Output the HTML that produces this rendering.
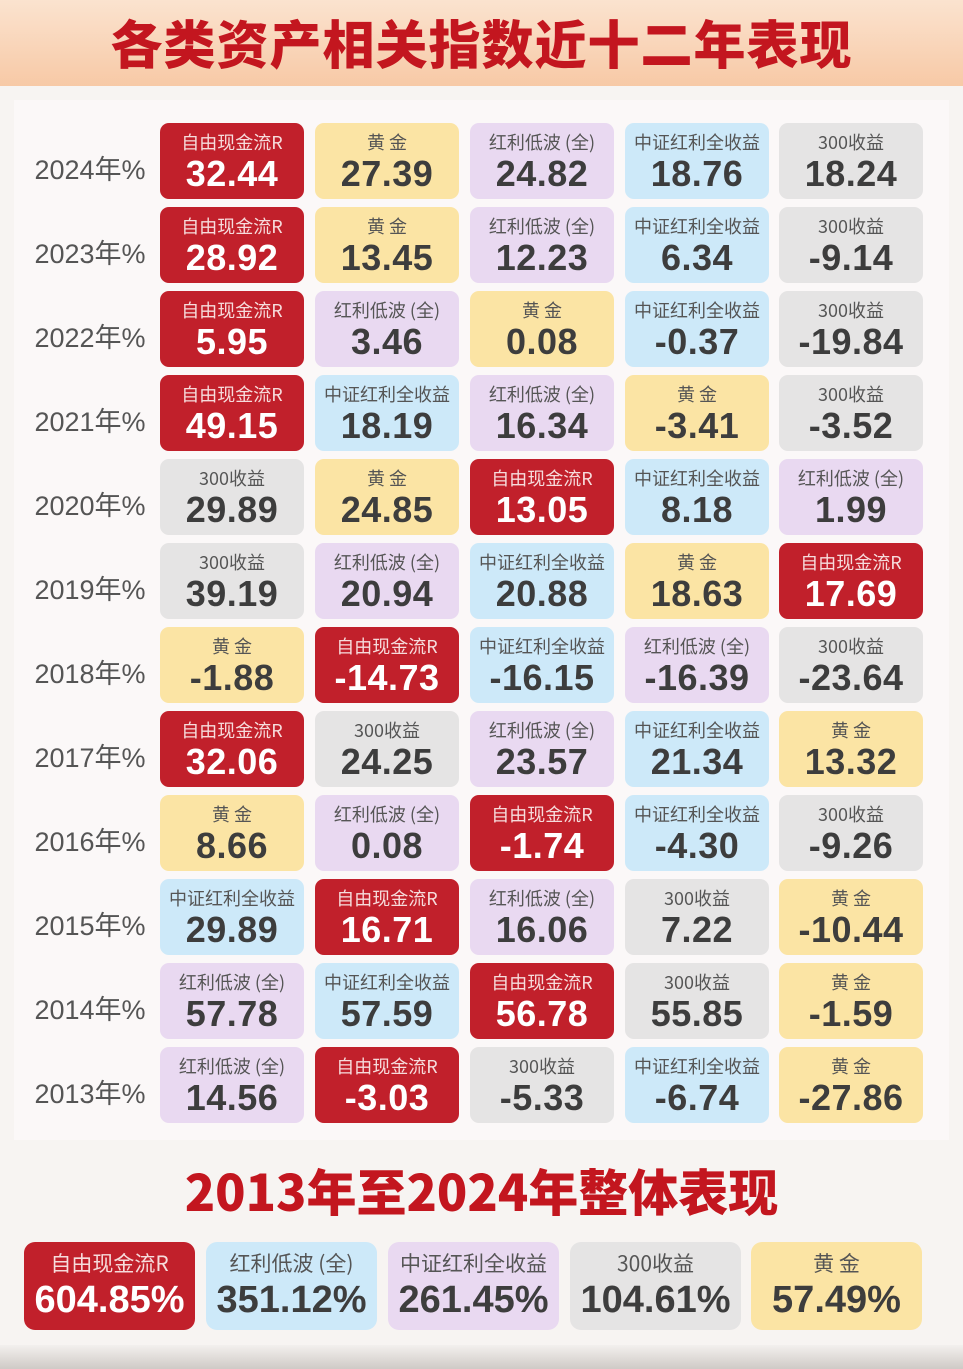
<!DOCTYPE html>
<html><head><meta charset="utf-8"><style>
*{margin:0;padding:0;box-sizing:border-box}
body{width:963px;height:1369px;overflow:hidden;background:#f7f4f2;font-family:"Liberation Sans","Noto Sans CJK SC",sans-serif;position:relative}
.hd{position:absolute;left:0;top:0;width:963px;height:86px;background:linear-gradient(180deg,#fbe3cf 0%,#f7c9a6 100%)}
.hd h1{position:absolute;left:0;width:963px;top:4px;text-align:center;font-size:52px;font-weight:900;color:#c3161f;letter-spacing:1px;font-family:"Noto Sans CJK SC",sans-serif}
.panel{position:absolute;left:14px;top:100px;width:935px;height:1040px;background:#fbf8f8}
.yr{position:absolute;left:20px;width:140px;text-align:center;font-size:27px;color:#555}
.c{position:absolute;width:144px;height:76px;border-radius:9px;text-align:center;color:#3d3d3d}
.c .l{font-size:18px;line-height:20px;margin-top:9px;font-family:"Noto Sans CJK SC",sans-serif;color:#555}
.c .v{font-size:36px;font-weight:bold;line-height:44px;letter-spacing:0.5px}
.r{background:#c1202b;color:#fff}.r .l{color:#f6dcdc}
.y{background:#fbe4a4}.p{background:#e9d9f1}.b{background:#cde9f9}.g{background:#e5e4e4}
.t2{position:absolute;left:0;width:963px;top:1154px;text-align:center;font-size:50px;font-weight:900;color:#c3161f;font-family:"Noto Sans CJK SC",sans-serif}
.bb{position:absolute;top:1242px;width:171px;height:88px;border-radius:11px;text-align:center;color:#3d3d3d}
.bb .l{font-size:21px;margin-top:8px;line-height:26px;font-family:"Noto Sans CJK SC",sans-serif;color:#555}
.bb .v{font-size:38px;font-weight:bold;line-height:48px}
.bb.r{color:#fff}.bb.r .l{color:#f6dcdc}
.bot{position:absolute;left:0;top:1345px;width:963px;height:24px;background:linear-gradient(180deg,#f3f0ee,#cfcac6)}
</style></head><body>
<div class="hd"><h1>各类资产相关指数近十二年表现</h1></div>
<div class="panel"></div>

<div class="yr" style="top:148px">2024年%</div>
<div class="c r" style="left:160px;top:123px"><div class="l">自由现金流R</div><div class="v">32.44</div></div>
<div class="c y" style="left:315px;top:123px"><div class="l">黄 金</div><div class="v">27.39</div></div>
<div class="c p" style="left:470px;top:123px"><div class="l">红利低波 (全)</div><div class="v">24.82</div></div>
<div class="c b" style="left:625px;top:123px"><div class="l">中证红利全收益</div><div class="v">18.76</div></div>
<div class="c g" style="left:779px;top:123px"><div class="l">300收益</div><div class="v">18.24</div></div>

<div class="yr" style="top:232px">2023年%</div>
<div class="c r" style="left:160px;top:207px"><div class="l">自由现金流R</div><div class="v">28.92</div></div>
<div class="c y" style="left:315px;top:207px"><div class="l">黄 金</div><div class="v">13.45</div></div>
<div class="c p" style="left:470px;top:207px"><div class="l">红利低波 (全)</div><div class="v">12.23</div></div>
<div class="c b" style="left:625px;top:207px"><div class="l">中证红利全收益</div><div class="v">6.34</div></div>
<div class="c g" style="left:779px;top:207px"><div class="l">300收益</div><div class="v">-9.14</div></div>

<div class="yr" style="top:316px">2022年%</div>
<div class="c r" style="left:160px;top:291px"><div class="l">自由现金流R</div><div class="v">5.95</div></div>
<div class="c p" style="left:315px;top:291px"><div class="l">红利低波 (全)</div><div class="v">3.46</div></div>
<div class="c y" style="left:470px;top:291px"><div class="l">黄 金</div><div class="v">0.08</div></div>
<div class="c b" style="left:625px;top:291px"><div class="l">中证红利全收益</div><div class="v">-0.37</div></div>
<div class="c g" style="left:779px;top:291px"><div class="l">300收益</div><div class="v">-19.84</div></div>

<div class="yr" style="top:400px">2021年%</div>
<div class="c r" style="left:160px;top:375px"><div class="l">自由现金流R</div><div class="v">49.15</div></div>
<div class="c b" style="left:315px;top:375px"><div class="l">中证红利全收益</div><div class="v">18.19</div></div>
<div class="c p" style="left:470px;top:375px"><div class="l">红利低波 (全)</div><div class="v">16.34</div></div>
<div class="c y" style="left:625px;top:375px"><div class="l">黄 金</div><div class="v">-3.41</div></div>
<div class="c g" style="left:779px;top:375px"><div class="l">300收益</div><div class="v">-3.52</div></div>

<div class="yr" style="top:484px">2020年%</div>
<div class="c g" style="left:160px;top:459px"><div class="l">300收益</div><div class="v">29.89</div></div>
<div class="c y" style="left:315px;top:459px"><div class="l">黄 金</div><div class="v">24.85</div></div>
<div class="c r" style="left:470px;top:459px"><div class="l">自由现金流R</div><div class="v">13.05</div></div>
<div class="c b" style="left:625px;top:459px"><div class="l">中证红利全收益</div><div class="v">8.18</div></div>
<div class="c p" style="left:779px;top:459px"><div class="l">红利低波 (全)</div><div class="v">1.99</div></div>

<div class="yr" style="top:568px">2019年%</div>
<div class="c g" style="left:160px;top:543px"><div class="l">300收益</div><div class="v">39.19</div></div>
<div class="c p" style="left:315px;top:543px"><div class="l">红利低波 (全)</div><div class="v">20.94</div></div>
<div class="c b" style="left:470px;top:543px"><div class="l">中证红利全收益</div><div class="v">20.88</div></div>
<div class="c y" style="left:625px;top:543px"><div class="l">黄 金</div><div class="v">18.63</div></div>
<div class="c r" style="left:779px;top:543px"><div class="l">自由现金流R</div><div class="v">17.69</div></div>

<div class="yr" style="top:652px">2018年%</div>
<div class="c y" style="left:160px;top:627px"><div class="l">黄 金</div><div class="v">-1.88</div></div>
<div class="c r" style="left:315px;top:627px"><div class="l">自由现金流R</div><div class="v">-14.73</div></div>
<div class="c b" style="left:470px;top:627px"><div class="l">中证红利全收益</div><div class="v">-16.15</div></div>
<div class="c p" style="left:625px;top:627px"><div class="l">红利低波 (全)</div><div class="v">-16.39</div></div>
<div class="c g" style="left:779px;top:627px"><div class="l">300收益</div><div class="v">-23.64</div></div>

<div class="yr" style="top:736px">2017年%</div>
<div class="c r" style="left:160px;top:711px"><div class="l">自由现金流R</div><div class="v">32.06</div></div>
<div class="c g" style="left:315px;top:711px"><div class="l">300收益</div><div class="v">24.25</div></div>
<div class="c p" style="left:470px;top:711px"><div class="l">红利低波 (全)</div><div class="v">23.57</div></div>
<div class="c b" style="left:625px;top:711px"><div class="l">中证红利全收益</div><div class="v">21.34</div></div>
<div class="c y" style="left:779px;top:711px"><div class="l">黄 金</div><div class="v">13.32</div></div>

<div class="yr" style="top:820px">2016年%</div>
<div class="c y" style="left:160px;top:795px"><div class="l">黄 金</div><div class="v">8.66</div></div>
<div class="c p" style="left:315px;top:795px"><div class="l">红利低波 (全)</div><div class="v">0.08</div></div>
<div class="c r" style="left:470px;top:795px"><div class="l">自由现金流R</div><div class="v">-1.74</div></div>
<div class="c b" style="left:625px;top:795px"><div class="l">中证红利全收益</div><div class="v">-4.30</div></div>
<div class="c g" style="left:779px;top:795px"><div class="l">300收益</div><div class="v">-9.26</div></div>

<div class="yr" style="top:904px">2015年%</div>
<div class="c b" style="left:160px;top:879px"><div class="l">中证红利全收益</div><div class="v">29.89</div></div>
<div class="c r" style="left:315px;top:879px"><div class="l">自由现金流R</div><div class="v">16.71</div></div>
<div class="c p" style="left:470px;top:879px"><div class="l">红利低波 (全)</div><div class="v">16.06</div></div>
<div class="c g" style="left:625px;top:879px"><div class="l">300收益</div><div class="v">7.22</div></div>
<div class="c y" style="left:779px;top:879px"><div class="l">黄 金</div><div class="v">-10.44</div></div>

<div class="yr" style="top:988px">2014年%</div>
<div class="c p" style="left:160px;top:963px"><div class="l">红利低波 (全)</div><div class="v">57.78</div></div>
<div class="c b" style="left:315px;top:963px"><div class="l">中证红利全收益</div><div class="v">57.59</div></div>
<div class="c r" style="left:470px;top:963px"><div class="l">自由现金流R</div><div class="v">56.78</div></div>
<div class="c g" style="left:625px;top:963px"><div class="l">300收益</div><div class="v">55.85</div></div>
<div class="c y" style="left:779px;top:963px"><div class="l">黄 金</div><div class="v">-1.59</div></div>

<div class="yr" style="top:1072px">2013年%</div>
<div class="c p" style="left:160px;top:1047px"><div class="l">红利低波 (全)</div><div class="v">14.56</div></div>
<div class="c r" style="left:315px;top:1047px"><div class="l">自由现金流R</div><div class="v">-3.03</div></div>
<div class="c g" style="left:470px;top:1047px"><div class="l">300收益</div><div class="v">-5.33</div></div>
<div class="c b" style="left:625px;top:1047px"><div class="l">中证红利全收益</div><div class="v">-6.74</div></div>
<div class="c y" style="left:779px;top:1047px"><div class="l">黄 金</div><div class="v">-27.86</div></div>

<div class="t2">2013年至2024年整体表现</div>
<div class="bb r" style="left:24px"><div class="l">自由现金流R</div><div class="v">604.85%</div></div>
<div class="bb b" style="left:206px"><div class="l">红利低波 (全)</div><div class="v">351.12%</div></div>
<div class="bb p" style="left:388px"><div class="l">中证红利全收益</div><div class="v">261.45%</div></div>
<div class="bb g" style="left:570px"><div class="l">300收益</div><div class="v">104.61%</div></div>
<div class="bb y" style="left:751px"><div class="l">黄 金</div><div class="v">57.49%</div></div>
<div class="bot"></div>
</body></html>
